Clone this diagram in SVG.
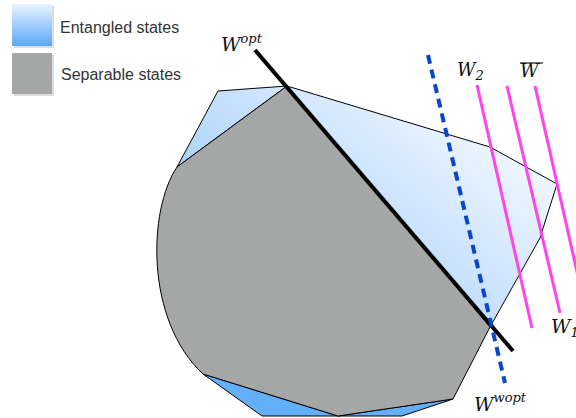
<svg xmlns="http://www.w3.org/2000/svg" width="576" height="418" viewBox="0 0 576 418">
<defs>
<linearGradient id="legBlue" x1="0" y1="0" x2="0" y2="1">
<stop offset="0" stop-color="#eaf3fe"/>
<stop offset="1" stop-color="#5aa8f8"/>
</linearGradient>
<linearGradient id="entBlue" gradientUnits="userSpaceOnUse" x1="500" y1="110" x2="330" y2="320">
<stop offset="0" stop-color="#f6faff"/>
<stop offset="1" stop-color="#a6cff9"/>
</linearGradient>
</defs>
<style>
.leg{font-family:"Liberation Sans",Arial,sans-serif;font-size:16px;fill:#333}
.w{font-family:"DejaVu Serif","Liberation Serif",serif;font-style:italic;fill:#111}
.edge{stroke:#000;stroke-width:1;stroke-linejoin:round}
.mag{stroke:#ff44ee;stroke-width:3;fill:none}
</style>
<g id="legend-entangled">
<rect x="14" y="6" width="40" height="42" fill="#bbb" opacity="0.5"/>
<rect x="12" y="4" width="40" height="42" fill="url(#legBlue)"/>
<text class="leg" x="60" y="33">Entangled states</text>
</g>
<g id="legend-separable">
<rect x="14" y="55" width="40" height="41" fill="#bbb" opacity="0.5"/>
<rect x="12" y="53" width="40" height="41" fill="#a5a7a6"/>
<text class="leg" x="61" y="80">Separable states</text>
</g>
<g id="entangled-region">
<polygon class="edge" points="177,167 218,91 287,86 490,147 557,184 540,238 490,327 287,86" fill="url(#entBlue)"/>
<polygon class="edge" points="203,374 262,416 402,416 453,399 338,416" fill="#64b0f8"/>
</g>
<g id="separable-region">
<path class="edge" d="M287,86 L490,327 L453,399 L338,416 L203,374 C145,320 148,210 177,167 Z" fill="#a5a7a6"/>
</g>
<g id="connectors">
<line x1="255" y1="50" x2="513" y2="351" stroke="#000" stroke-width="4"/>
<line x1="428" y1="55" x2="505" y2="383" stroke="#0a46c8" stroke-width="4" stroke-dasharray="9,6"/>
<line class="mag" x1="477" y1="85" x2="532" y2="328"/>
<line class="mag" x1="507" y1="86" x2="560" y2="313"/>
<line class="mag" x1="535" y1="86" x2="580" y2="285"/>
</g>
<g id="labels">
<text class="w" x="221" y="51" font-size="19">W<tspan font-size="13" dy="-8">opt</tspan></text>
<text class="w" x="457" y="76" font-size="18">W<tspan font-size="13" dy="4">2</tspan></text>
<text class="w" x="520" y="77" font-size="18">W</text>
<line x1="520" y1="63" x2="543" y2="63" stroke="#111" stroke-width="1.2"/>
<text class="w" x="551" y="333" font-size="19">W<tspan font-size="13" dy="4">1</tspan></text>
<text class="w" x="474" y="411" font-size="19">W<tspan font-size="13" dy="-9">wopt</tspan></text>
</g>
</svg>
